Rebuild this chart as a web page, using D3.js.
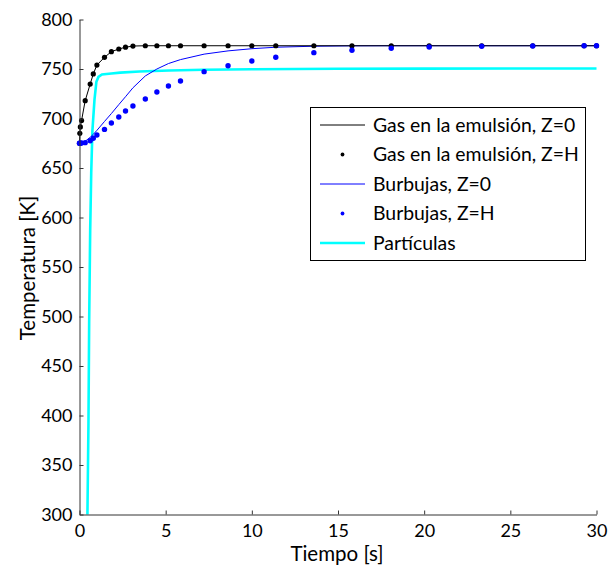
<!DOCTYPE html>
<html>
<head>
<meta charset="utf-8">
<script src="https://cdn.jsdelivr.net/npm/d3@7/dist/d3.min.js"></script>
<style>
  html, body { margin: 0; padding: 0; background: #fff; }
  svg { display: block; }
  text { font-family: Lato, "Open Sans", sans-serif; fill: #000; }
</style>
</head>
<body>
<svg id="chart" width="608" height="567"></svg>
<script>
// Solver time steps [s]
const timeSteps = [0, 0.02, 0.05, 0.12, 0.33, 0.62, 0.8, 1.01, 1.45, 1.85, 2.28, 2.67, 3.1,
  3.82, 4.49, 5.16, 5.86, 7.23, 8.62, 10.0, 11.39, 13.6, 15.81, 18.09, 20.29, 23.34, 26.3, 29.28, 30];

// Emulsion gas temperature [K], Z=0 and Z=H
const gasZ0 = [675, 685, 691.5, 698, 718, 734.8, 745, 754, 761.8, 767.5, 770.2, 772, 773.2,
  773.5, 773.5, 773.5, 773.5, 773.5, 773.5, 773.5, 773.5, 773.5, 773.5, 773.5, 773.5, 773.5, 773.5, 773.5, 773.5];
const gasZH = [675, 685, 691.5, 698, 718, 734.8, 745, 754, 761.8, 767.5, 770.2, 772, 773.2,
  773.5, 773.5, 773.5, 773.5, 773.5, 773.5, 773.5, 773.5, 773.5, 773.5, 773.5, 773.5, 773.5, 773.5, 773.5, 773.5];

// Bubble temperature [K], Z=0 and Z=H
const bubZ0 = [675, 675, 675, 675.3, 677, 681, 684, 688, 697, 705, 714, 722, 731,
  743, 750, 755.5, 759.5, 765, 768.3, 770.5, 772, 773, 773.4, 773.5, 773.5, 773.5, 773.5, 773.5, 773.5];
const bubZH = [675, 675, 675, 675.2, 675.6, 677.6, 680, 683.3, 689, 695.5, 701.5, 707.6, 712.6,
  719.7, 726.8, 732.8, 737.9, 747.3, 753.3, 758.1, 761.8, 766.5, 768.9, 770.9, 772.2, 773, 773.3, 773.5, 773.5];

// Particle temperature [K]
const partTime = [0.46, 0.52, 0.56, 0.62, 0.68, 0.75, 0.87, 0.98, 1.1, 1.3, 1.85, 2.36, 3.48, 5.2, 7.2, 10, 15, 20, 30];
const partTemp = [300, 392, 493, 587, 645, 688, 719, 737, 742, 744.5, 745.5, 746.3, 747.5, 748.5, 749.3, 749.8, 750.2, 750.4, 750.5];

const xTicks = [0, 5, 10, 15, 20, 25, 30];
const yTicks = [300, 350, 400, 450, 500, 550, 600, 650, 700, 750, 800];

const legendLabels = ["Gas en la emulsión, Z=0", "Gas en la emulsión, Z=H", "Burbujas, Z=0", "Burbujas, Z=H", "Partículas"];

const svg = d3.select("#chart");
const x = d3.scaleLinear().domain([0, 30]).range([79.5, 596.5]);
const y = d3.scaleLinear().domain([300, 800]).range([514.5, 19.5]);

const toPts = (ts, vs) => ts.map((t, i) => [t, vs[i]]);
const line = d3.line().x(d => x(d[0])).y(d => y(d[1]));

const plot = svg.append("g");

// Particles (thick cyan)
plot.append("path").datum(toPts(partTime, partTemp))
  .attr("d", line).attr("fill", "none").attr("stroke", "#00ffff").attr("stroke-width", 2.6);

// Bubbles Z=0 (thin blue line)
plot.append("path").datum(toPts(timeSteps, bubZ0))
  .attr("d", line).attr("fill", "none").attr("stroke", "#0000ff").attr("stroke-width", 1);

// Gas Z=0 (black line)
plot.append("path").datum(toPts(timeSteps, gasZ0))
  .attr("d", line).attr("fill", "none").attr("stroke", "#000").attr("stroke-width", 1);

// Gas Z=H (black dots)
plot.append("g").selectAll("circle").data(toPts(timeSteps, gasZH)).join("circle")
  .attr("cx", d => x(d[0])).attr("cy", d => y(d[1])).attr("r", 2.6).attr("fill", "#000");

// Bubbles Z=H (blue dots)
plot.append("g").selectAll("circle").data(toPts(timeSteps, bubZH)).join("circle")
  .attr("cx", d => x(d[0])).attr("cy", d => y(d[1])).attr("r", 2.7).attr("fill", "#0000ff");

// Axes
const axisColor = "#333";
const xAxis = svg.append("g").attr("transform", `translate(0,${y(300)})`)
  .call(d3.axisBottom(x).tickValues(xTicks).tickSizeInner(-4).tickSizeOuter(0).tickPadding(10).tickFormat(d3.format("d")));
const yAxis = svg.append("g").attr("transform", `translate(${x(0)},0)`)
  .call(d3.axisLeft(y).tickValues(yTicks).tickSizeInner(-4).tickSizeOuter(0).tickPadding(7).tickFormat(d3.format("d")));
[xAxis, yAxis].forEach(a => {
  a.select(".domain").attr("stroke", axisColor).attr("stroke-width", 1);
  a.selectAll(".tick line").attr("stroke", axisColor);
  a.selectAll(".tick text").attr("font-size", 18).attr("font-family", "Lato, sans-serif").attr("fill", "#000");
});

// Axis titles
svg.append("text").attr("x", 337).attr("y", 561).attr("text-anchor", "middle")
  .attr("font-size", 20.5).text("Tiempo [s]");
svg.append("text").attr("transform", "translate(35,268) rotate(-90)").attr("text-anchor", "middle")
  .attr("font-size", 20.5).text("Temperatura [K]");

// Legend
const lg = svg.append("g");
lg.append("rect").attr("x", 310.5).attr("y", 107.5).attr("width", 275).attr("height", 153)
  .attr("fill", "#fff").attr("stroke", "#000").attr("stroke-width", 1);
const styles = [
  { type: "line", color: "#000", w: 1 },
  { type: "dot", color: "#000" },
  { type: "line", color: "#0000ff", w: 1 },
  { type: "dot", color: "#0000ff" },
  { type: "line", color: "#00ffff", w: 2.6 }
];
legendLabels.forEach((lab, i) => {
  const cy = 125 + i * 29.5;
  const s = styles[i];
  if (s.type === "line") {
    lg.append("line").attr("x1", 320).attr("x2", 365).attr("y1", cy).attr("y2", cy)
      .attr("stroke", s.color).attr("stroke-width", s.w);
  } else {
    lg.append("circle").attr("cx", 342.5).attr("cy", cy).attr("r", 1.9).attr("fill", s.color);
  }
  lg.append("text").attr("x", 373).attr("y", cy).attr("dy", "0.35em")
    .attr("font-size", 19.4).text(lab);
});
</script>
</body>
</html>
